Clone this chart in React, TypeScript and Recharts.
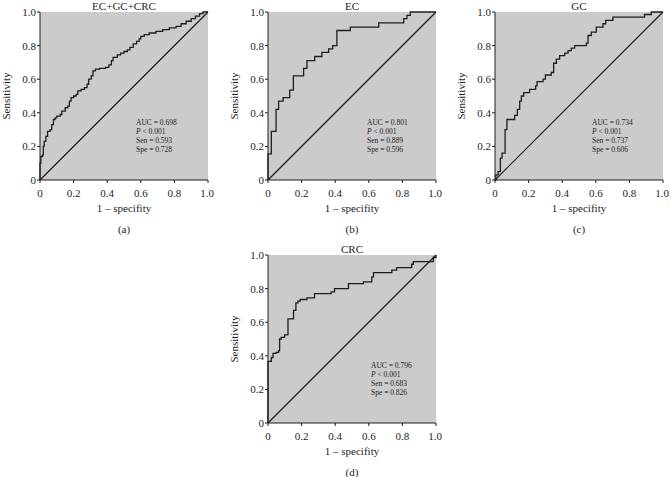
import { LineChart, Line, XAxis, YAxis, CartesianGrid } from "recharts";

type RocPoint = { fpr: number; tpr: number };

const axisTicks = [0, 0.2, 0.4, 0.6, 0.8, 1.0];

const chanceLine: RocPoint[] = [
    { fpr: 0, tpr: 0 },
    { fpr: 1, tpr: 1 },
];

const toPoints = (pairs: number[][]): RocPoint[] => pairs.map(([fpr, tpr]) => ({ fpr, tpr }));

const rocAll = toPoints([
    [0, 0], [0, 0.1], [0.005, 0.14], [0.015, 0.15], [0.02, 0.2], [0.025, 0.23], [0.035, 0.26],
    [0.045, 0.29], [0.06, 0.3], [0.07, 0.33], [0.08, 0.36], [0.09, 0.37], [0.1, 0.38], [0.12, 0.39],
    [0.13, 0.41], [0.15, 0.43], [0.165, 0.44], [0.175, 0.47], [0.185, 0.49], [0.2, 0.5], [0.215, 0.51],
    [0.225, 0.53], [0.245, 0.54], [0.265, 0.55], [0.28, 0.57], [0.29, 0.6], [0.305, 0.62], [0.315, 0.65],
    [0.33, 0.66], [0.355, 0.665], [0.39, 0.67], [0.41, 0.685], [0.425, 0.71], [0.435, 0.73], [0.46, 0.745],
    [0.48, 0.755], [0.5, 0.765], [0.52, 0.775], [0.535, 0.79], [0.555, 0.81], [0.575, 0.825], [0.59, 0.84],
    [0.6, 0.855], [0.62, 0.865], [0.65, 0.875], [0.69, 0.885], [0.73, 0.895], [0.77, 0.905], [0.81, 0.915],
    [0.84, 0.93], [0.87, 0.945], [0.9, 0.96], [0.925, 0.975], [0.95, 0.99], [0.97, 1], [1, 1],
]);

const rocEC = toPoints([
    [0, 0], [0, 0.155], [0.02, 0.29], [0.048, 0.42], [0.063, 0.47], [0.09, 0.49], [0.129, 0.535],
    [0.151, 0.62], [0.212, 0.665], [0.232, 0.71], [0.278, 0.735], [0.321, 0.76], [0.361, 0.78],
    [0.385, 0.8], [0.41, 0.89], [0.49, 0.91], [0.659, 0.935], [0.808, 0.96], [0.827, 0.98],
    [0.847, 1.0], [1, 1],
]);

const rocGC = toPoints([
    [0, 0], [0.005, 0.03], [0.018, 0.05], [0.032, 0.13], [0.042, 0.16], [0.06, 0.3], [0.071, 0.36],
    [0.117, 0.385], [0.133, 0.42], [0.147, 0.47], [0.157, 0.5], [0.171, 0.52], [0.206, 0.54],
    [0.242, 0.56], [0.25, 0.585], [0.286, 0.6], [0.3, 0.625], [0.335, 0.64], [0.349, 0.695],
    [0.365, 0.72], [0.385, 0.74], [0.415, 0.755], [0.435, 0.77], [0.454, 0.785], [0.474, 0.8],
    [0.544, 0.815], [0.554, 0.86], [0.573, 0.88], [0.603, 0.91], [0.643, 0.93], [0.659, 0.95],
    [0.702, 0.97], [0.89, 0.985], [0.93, 1.0], [1, 1],
]);

const rocCRC = toPoints([
    [0, 0], [0, 0.367], [0.02, 0.39], [0.03, 0.415], [0.048, 0.42], [0.063, 0.43], [0.069, 0.5],
    [0.079, 0.51], [0.099, 0.525], [0.119, 0.62], [0.152, 0.67], [0.166, 0.715], [0.178, 0.725],
    [0.192, 0.735], [0.232, 0.745], [0.277, 0.77], [0.376, 0.78], [0.396, 0.8], [0.479, 0.83],
    [0.568, 0.84], [0.618, 0.87], [0.628, 0.895], [0.737, 0.91], [0.766, 0.925], [0.855, 0.945],
    [0.865, 0.96], [0.984, 0.985], [1, 1],
]);

const panelTitles = ["EC+GC+CRC", "EC", "GC", "CRC"];
const panelLetters = ["(a)", "(b)", "(c)", "(d)"];
const aucValues = ["0.698", "0.801", "0.734", "0.796"];
const senValues = ["0.593", "0.889", "0.737", "0.683"];
const speValues = ["0.728", "0.596", "0.606", "0.826"];
const rocSeries = [rocAll, rocEC, rocGC, rocCRC];

const FONT = "'Liberation Serif', 'Times New Roman', serif";
const INK = "#1e1e1e";

const fmtTick = (v: number) => (v === 0 ? "0" : v.toFixed(1));

type PanelProps = {
    index: number;
    left: number;
    top: number;
    statsLeft: number;
};

const centered = (x: number, y: number): React.CSSProperties => ({
    position: "absolute",
    left: x,
    top: y,
    transform: "translate(-50%, -50%)",
    whiteSpace: "nowrap",
    fontSize: 11,
    lineHeight: "11px",
    color: INK,
});

const Panel = ({ index, left, top, statsLeft }: PanelProps) => {
    return (
        <div style={{ position: "absolute", left, top, width: 214, height: 240, fontFamily: FONT }}>
            <LineChart width={214} height={240} margin={{ top: 12, right: 6, bottom: 0, left: 0 }}>
                <CartesianGrid horizontal={false} vertical={false} fill="#cbcbcb" />
                <XAxis
                    xAxisId={0}
                    dataKey="fpr"
                    type="number"
                    domain={[0, 1]}
                    ticks={axisTicks}
                    tickFormatter={fmtTick}
                    height={60}
                    tickSize={3}
                    tickMargin={6}
                    stroke={INK}
                    tick={{ fill: INK, fontSize: 11, fontFamily: FONT }}
                    allowDuplicatedCategory={false}
                />
                <XAxis xAxisId="top" orientation="top" type="number" domain={[0, 1]} height={0} tick={false} tickLine={false} stroke="#333" />
                <YAxis
                    yAxisId={0}
                    dataKey="tpr"
                    type="number"
                    domain={[0, 1]}
                    ticks={axisTicks}
                    tickFormatter={fmtTick}
                    width={40}
                    tickSize={3}
                    tickMargin={1}
                    stroke={INK}
                    tick={{ fill: INK, fontSize: 11, fontFamily: FONT }}
                />
                <YAxis yAxisId="right" orientation="right" type="number" domain={[0, 1]} width={0} tick={false} tickLine={false} stroke="#333" />
                <Line data={chanceLine} dataKey="tpr" type="linear" stroke={INK} strokeWidth={1.2} dot={false} isAnimationActive={false} />
                <Line data={rocSeries[index]} dataKey="tpr" type="stepAfter" stroke={INK} strokeWidth={1.3} dot={false} isAnimationActive={false} />
            </LineChart>
            <div style={centered(124, 6)}>{panelTitles[index]}</div>
            <div style={centered(124, 208)}>1 – specifity</div>
            <div style={centered(124, 228.5)}>{panelLetters[index]}</div>
            <div style={{ ...centered(6, 96), transform: "translate(-50%, -50%) rotate(-90deg)" }}>Sensitivity</div>
            <div style={{ position: "absolute", left: statsLeft, top: 117.5, fontSize: 7.5, lineHeight: "9.2px", color: INK, whiteSpace: "nowrap" }}>
                <div>AUC = {aucValues[index]}</div>
                <div><i>P</i> &lt; 0.001</div>
                <div>Sen = {senValues[index]}</div>
                <div>Spe = {speValues[index]}</div>
            </div>
        </div>
    );
};

export default function App() {
    return (
        <div style={{ position: "absolute", left: 0, top: 0, width: 670, height: 477, background: "#fff", overflow: "hidden" }}>
            <Panel index={0} left={0} top={0} statsLeft={136} />
            <Panel index={1} left={228} top={0} statsLeft={139} />
            <Panel index={2} left={455} top={0} statsLeft={137} />
            <Panel index={3} left={228} top={243} statsLeft={143} />
        </div>
    );
}
